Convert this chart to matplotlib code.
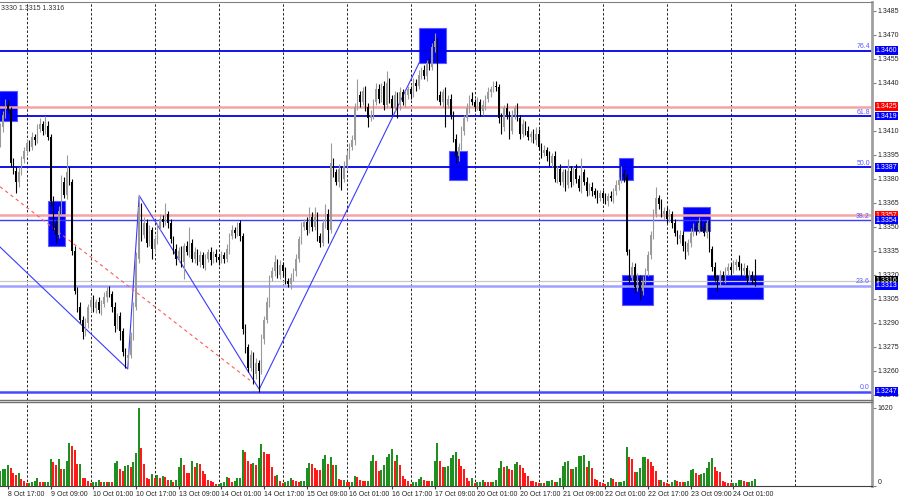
#!/usr/bin/env python3
"""
GBPUSD H1 chart in the MetaTrader look: candles, Fibonacci grid,
marked zones, zigzag and a volume panel underneath.

Bars are counted from 8 Oct 17:00 (bar 0); the chart starts three bars
earlier. Prices are read off the screenshot, so they are approximate.
"""

import numpy as np
import matplotlib
matplotlib.use("Agg")
import matplotlib.pyplot as plt
from matplotlib.patches import Rectangle
from matplotlib.transforms import blended_transform_factory

plt.rcParams["font.family"] = ["Liberation Sans", "DejaVu Sans"]

# ---------------------------------------------------------------------------

# Data

FIRST_BAR = -3
FIRST_OPEN = 1.3402
PIP = 0.0001

close = [
    # 8 Oct (14:00-23:00)
    1.3412, 1.3420, 1.3426, 1.3423, 1.3390, 1.3385, 1.3378, 1.3384, 1.3392, 1.3397,
    # 9 Oct
    1.3402, 1.3400, 1.3406, 1.3404, 1.3411, 1.3414, 1.3410, 1.3413, 1.3406, 1.3366, 1.3352, 1.3345,
    1.3360, 1.3378, 1.3370, 1.3384, 1.3378, 1.3335, 1.3310, 1.3300, 1.3292, 1.3284, 1.3290, 1.3300,
    # 10 Oct
    1.3304, 1.3299, 1.3303, 1.3298, 1.3302, 1.3306, 1.3310, 1.3308, 1.3300, 1.3288, 1.3294, 1.3285,
    1.3272, 1.3268, 1.3270, 1.3282, 1.3300, 1.3330, 1.3362, 1.3345, 1.3352, 1.3340, 1.3348, 1.3336,
    # 13 Oct
    1.3342, 1.3350, 1.3355, 1.3353, 1.3358, 1.3352, 1.3342, 1.3336, 1.3330, 1.3335, 1.3328, 1.3338,
    1.3334, 1.3340, 1.3330, 1.3334, 1.3328, 1.3332, 1.3326, 1.3330, 1.3334, 1.3329, 1.3333, 1.3331,
    # 14 Oct
    1.3329, 1.3332, 1.3330, 1.3336, 1.3344, 1.3348, 1.3346, 1.3352, 1.3344, 1.3286, 1.3275, 1.3262,
    1.3270, 1.3258, 1.3265, 1.3260, 1.3280, 1.3292, 1.3303, 1.3318, 1.3322, 1.3328, 1.3320, 1.3326,
    # 15 Oct
    1.3322, 1.3316, 1.3314, 1.3318, 1.3322, 1.3330, 1.3342, 1.3350, 1.3353, 1.3348, 1.3356, 1.3350,
    1.3356, 1.3344, 1.3340, 1.3352, 1.3358, 1.3348, 1.3390, 1.3384, 1.3378, 1.3386, 1.3380, 1.3388,
    # 16 Oct
    1.3395, 1.3400, 1.3404, 1.3425, 1.3432, 1.3428, 1.3435, 1.3425, 1.3418, 1.3420, 1.3428, 1.3436,
    1.3430, 1.3438, 1.3426, 1.3440, 1.3430, 1.3424, 1.3432, 1.3426, 1.3434, 1.3428, 1.3432, 1.3436,
    # 17 Oct
    1.3433, 1.3440, 1.3438, 1.3445, 1.3448, 1.3444, 1.3452, 1.3450, 1.3462, 1.3466, 1.3432, 1.3428,
    1.3434, 1.3426, 1.3430, 1.3420, 1.3405, 1.3394, 1.3400, 1.3410, 1.3418, 1.3424, 1.3430, 1.3428,
    # 20 Oct
    1.3425, 1.3428, 1.3422, 1.3426, 1.3430, 1.3434, 1.3436, 1.3438, 1.3437, 1.3418, 1.3412, 1.3424,
    1.3420, 1.3410, 1.3420, 1.3424, 1.3418, 1.3408, 1.3414, 1.3410, 1.3406, 1.3408, 1.3404, 1.3408,
    # 21 Oct
    1.3400, 1.3396, 1.3398, 1.3394, 1.3390, 1.3394, 1.3380, 1.3386, 1.3378, 1.3384, 1.3376, 1.3385,
    1.3378, 1.3386, 1.3380, 1.3374, 1.3384, 1.3378, 1.3372, 1.3375, 1.3372, 1.3370, 1.3368, 1.3371,
    # 22 Oct
    1.3368, 1.3366, 1.3369, 1.3368, 1.3372, 1.3376, 1.3379, 1.3383, 1.3381, 1.3334, 1.3318, 1.3325,
    1.3312, 1.3318, 1.3310, 1.3316, 1.3322, 1.3332, 1.3345, 1.3358, 1.3368, 1.3364, 1.3358, 1.3360,
    # 23 Oct
    1.3355, 1.3358, 1.3352, 1.3346, 1.3342, 1.3345, 1.3338, 1.3334, 1.3340, 1.3346, 1.3350, 1.3348,
    1.3352, 1.3350, 1.3346, 1.3352, 1.3336, 1.3325, 1.3318, 1.3316, 1.3320, 1.3318, 1.3322, 1.3325,
    # 24 Oct (00:00-09:00)
    1.3323, 1.3326, 1.3328, 1.3325, 1.3322, 1.3324, 1.3318, 1.3320, 1.3317, 1.3316,
]

# wick lengths above / below the candle body, in pips
wick_up = [
    3, 2, 4, 3, 2, 3, 2, 3, 2, 3,
    3, 2, 3, 2, 3, 4, 2, 6, 3, 2, 3, 2, 3, 4, 3, 11, 3, 2, 3, 2, 3, 2, 3, 2,
    2, 3, 2, 3, 2, 3, 2, 3, 2, 3, 2, 3, 2, 2, 3, 2, 3, 4, 8, 3, 4, 3, 3, 2,
    3, 2, 3, 2, 7, 2, 3, 2, 3, 2, 3, 2, 3, 10, 2, 3, 2, 3, 2, 3, 2, 3, 2, 3,
    2, 3, 2, 3, 2, 3, 2, 1, 2, 2, 3, 2, 3, 2, 3, 2, 3, 2, 3, 2, 3, 4, 2, 3,
    2, 3, 2, 3, 2, 3, 2, 3, 2, 3, 6, 3, 6, 3, 2, 3, 6, 3, 12, 3, 2, 3, 2, 3,
    3, 2, 3, 2, 10, 3, 2, 3, 2, 3, 2, 4, 3, 2, 3, 7, 3, 2, 3, 2, 3, 2, 3, 2,
    2, 3, 2, 3, 2, 3, 2, 3, 3, 5, 2, 3, 2, 3, 2, 3, 2, 3, 2, 3, 2, 3, 2, 4,
    2, 3, 2, 3, 2, 3, 2, 3, 3, 2, 3, 2, 3, 2, 3, 2, 3, 2, 3, 2, 3, 2, 3, 4,
    3, 2, 3, 2, 3, 2, 3, 2, 3, 2, 2, 7, 3, 2, 3, 2, 9, 2, 3, 2, 3, 2, 3, 2,
    2, 3, 2, 3, 2, 3, 2, 5, 3, 2, 2, 3, 2, 3, 2, 3, 2, 3, 2, 3, 7, 2, 3, 2,
    2, 3, 2, 3, 2, 3, 2, 3, 2, 3, 2, 3, 4, 2, 3, 2, 3, 2, 3, 2, 3, 2, 3, 2,
    2, 3, 2, 4, 2, 3, 2, 3, 2, 13,
]
wick_dn = [
    2, 3, 2, 2, 3, 2, 7, 3, 2, 2,
    2, 3, 2, 3, 2, 2, 3, 2, 2, 3, 4, 5, 2, 3, 2, 3, 2, 3, 2, 3, 2, 4, 2, 3,
    3, 2, 3, 2, 3, 2, 3, 2, 3, 4, 2, 6, 3, 6, 3, 2, 3, 2, 3, 4, 2, 3, 2, 6,
    2, 3, 2, 3, 2, 3, 2, 3, 4, 2, 3, 11, 2, 3, 2, 3, 2, 3, 2, 3, 2, 3, 2, 3,
    3, 2, 3, 2, 3, 2, 3, 2, 3, 3, 4, 3, 2, 6, 3, 13, 2, 3, 2, 3, 2, 3, 2, 3,
    3, 2, 2, 3, 2, 3, 2, 3, 2, 3, 2, 3, 2, 3, 3, 2, 3, 8, 2, 3, 2, 3, 7, 2,
    2, 3, 2, 3, 2, 3, 2, 3, 6, 2, 3, 2, 3, 2, 3, 2, 3, 4, 2, 8, 3, 2, 3, 2,
    3, 2, 3, 2, 3, 2, 3, 2, 2, 3, 3, 2, 3, 14, 2, 3, 2, 4, 3, 2, 3, 2, 3, 2,
    3, 2, 3, 2, 3, 2, 3, 2, 2, 3, 4, 2, 3, 5, 2, 3, 2, 3, 2, 3, 2, 3, 2, 3,
    2, 3, 2, 3, 2, 3, 2, 3, 2, 3, 4, 2, 3, 2, 3, 2, 3, 2, 3, 2, 3, 2, 3, 2,
    3, 2, 3, 2, 3, 2, 3, 2, 3, 2, 3, 2, 3, 2, 6, 3, 2, 3, 2, 3, 2, 3, 2, 3,
    3, 2, 3, 2, 3, 2, 3, 4, 2, 3, 2, 3, 2, 3, 2, 3, 2, 3, 2, 6, 3, 2, 3, 2,
    3, 2, 3, 2, 3, 2, 4, 2, 3, 3,
]

volume = [
    312, 346, 346, 430, 381, 277, 229, 277, 146, 104,
    55, 69, 90, 104, 166, 90, 83, 83, 83, 554, 492, 430, 554, 353, 360, 527, 887, 832, 742, 457, 457, 166, 159, 104,
    55, 76, 90, 118, 83, 83, 76, 83, 76, 471, 520, 360, 305, 423, 430, 402, 492, 693, 1620, 783, 450, 159, 146, 249,
    159, 229, 159, 201, 194, 118, 118, 90, 125, 402, 575, 437, 277, 270, 520, 402, 471, 457, 319, 249, 118, 104, 76, 49,
    49, 69, 90, 180, 159, 90, 111, 159, 159, 742, 707, 520, 457, 471, 437, 589, 866, 700, 672, 658, 402, 208, 229, 104,
    55, 76, 111, 166, 118, 104, 90, 104, 104, 367, 485, 450, 367, 333, 326, 561, 651, 457, 610, 430, 430, 139, 132, 132,
    90, 76, 83, 208, 187, 125, 111, 104, 111, 513, 651, 527, 305, 333, 437, 603, 672, 769, 527, 638, 430, 208, 152, 104,
    49, 76, 83, 152, 180, 132, 111, 104, 111, 513, 901, 513, 395, 395, 420, 589, 645, 700, 554, 409, 353, 173, 111, 159,
    62, 76, 90, 118, 90, 83, 76, 76, 125, 381, 520, 395, 423, 353, 333, 457, 499, 437, 367, 263, 208, 111, 97, 90,
    62, 62, 55, 104, 111, 125, 76, 76, 159, 416, 506, 513, 353, 353, 402, 624, 624, 638, 402, 513, 374, 146, 132, 76,
    69, 42, 76, 166, 139, 83, 83, 83, 111, 804, 603, 554, 291, 291, 374, 603, 610, 554, 506, 416, 305, 125, 132, 83,
    62, 42, 76, 118, 97, 90, 76, 76, 97, 326, 360, 277, 229, 243, 270, 374, 492, 575, 402, 312, 291, 97, 83, 69,
    55, 55, 62, 125, 125, 111, 90, 90, 97, 139,
]

time_labels = [
    "8 Oct 17:00", "9 Oct 09:00", "10 Oct 01:00", "10 Oct 17:00", "13 Oct 09:00",
    "14 Oct 01:00", "14 Oct 17:00", "15 Oct 09:00", "16 Oct 01:00", "16 Oct 17:00",
    "17 Oct 09:00", "20 Oct 01:00", "20 Oct 17:00", "21 Oct 09:00", "22 Oct 01:00",
    "22 Oct 17:00", "23 Oct 09:00", "24 Oct 01:00",
]
LABEL_STEP = 16                      # bars between time labels
day_starts = [7, 31, 55, 79, 103, 127, 151, 175, 199, 223, 247, 271, 295]

price_ticks = [1.3245, 1.3260, 1.3275, 1.3290, 1.3305, 1.3320, 1.3335, 1.3350,
               1.3365, 1.3380, 1.3395, 1.3410, 1.3440, 1.3455, 1.3470, 1.3485]

fib_prices = [1.3460, 1.3419, 1.3387, 1.3354, 1.3313, 1.3247]
fib_names = ["76.4", "61.8", "50.0", "38.2", "23.6", "0.0"]
red_levels = [1.3425, 1.3357]
last_price = 1.3316
volume_max_label = 1620

# zigzag pivots (bar, price) and the red dashed trend line
zigzag_bar = [-3, 44.9, 49.2, 94.2, 154.3]
zigzag_price = [1.33373, 1.32611, 1.33694, 1.32484, 1.34528]
trend_bar = [-3, 90.7]
trend_price = [1.3375, 1.3254]

# blue zones: left bar, right bar, low price, high price
zone_left = [-3.5, 15.1, 154.2, 165.2, 229.2, 230.3, 253.2, 262.1]
zone_right = [3.3, 21.4, 164.2, 172.1, 234.2, 242.0, 263.2, 283.1]
zone_low = [1.3416, 1.3338, 1.3452, 1.3379, 1.3379, 1.3301, 1.3347, 1.3305]
zone_high = [1.3435, 1.3366, 1.3474, 1.3397, 1.3393, 1.3320, 1.3362, 1.3320]


# ---------------------------------------------------------------------------

# Plotting

BULL = "#9a9a9a"
BEAR = "#000000"
FS = 5


def price_tag(ax, price, text, color, z=10):
    trans = blended_transform_factory(ax.transAxes, ax.transData)
    ax.text(1.004, price, text, transform=trans, ha="left", va="center",
            fontsize=FS, color="white", clip_on=False, zorder=z,
            bbox=dict(boxstyle="square,pad=0.1", fc=color, ec="none"))


def draw_candles(ax, bars, o, h, l, c):
    up = c >= o
    for mask, col in ((up, BULL), (~up, BEAR)):
        ax.vlines(bars[mask], l[mask], h[mask], color=col, lw=0.8, zorder=3)
        bottom = np.minimum(o, c)[mask]
        height = np.maximum(np.abs(c - o)[mask], 0.3 * PIP)
        ax.bar(bars[mask], height, bottom=bottom, width=0.62, color=col,
               lw=0, zorder=3)


def main():
    n_bars = len(close)
    assert len(wick_up) == n_bars and len(wick_dn) == n_bars, (len(wick_up), len(wick_dn), n_bars)
    assert len(volume) == n_bars, (len(volume), n_bars)

    bars = np.arange(FIRST_BAR, FIRST_BAR + n_bars)
    c = np.array(close)
    o = np.concatenate([[FIRST_OPEN], c[:-1]])
    h = np.maximum(o, c) + np.array(wick_up) * PIP
    l = np.minimum(o, c) - np.array(wick_dn) * PIP

    fig = plt.figure(figsize=(9, 5), dpi=100)
    fig.patch.set_facecolor("white")
    ax = fig.add_axes([0, 0.2, 872 / 900, 0.796])
    axv = fig.add_axes([0, 0.028, 872 / 900, 0.168])

    xlim = (-3, 324)
    ax.set_xlim(*xlim)
    axv.set_xlim(*xlim)
    ax.set_ylim(1.32417, 1.34904)

    # day separators
    for d in day_starts:
        for a in (ax, axv):
            a.axvline(d, color="#222222", lw=0.7, ls=(0, (2.5, 2)), zorder=0.5)

    # zones
    for x0, x1, p0, p1 in zip(zone_left, zone_right, zone_low, zone_high):
        ax.add_patch(Rectangle((x0, p0), x1 - x0, p1 - p0, fc="#0000ff",
                               ec="#5a5aff", lw=0.8, zorder=1))

    # horizontal levels
    fib_style = {
        "76.4": ("#0000e6", 1.3), "61.8": ("#0000e6", 1.3), "50.0": ("#0000e6", 1.3),
        "38.2": ("#3c3cff", 1.0), "23.6": ("#a0a0ff", 1.8), "0.0": ("#4848ff", 1.8),
    }
    for p in red_levels:
        ax.axhline(p, color="#f6a3a3", lw=1.8, zorder=1.5)
    ax.axhline(last_price, color="#c8c8c8", lw=0.9, zorder=1.5)
    for p, name in zip(fib_prices, fib_names):
        col, lw = fib_style[name]
        ax.axhline(p, color=col, lw=lw, zorder=1.6)
        ax.text(xlim[1] - 0.8, p + 0.3 * PIP, name, ha="right", va="bottom",
                fontsize=FS, color="#5a5aff", zorder=4)

    # zigzag and trend line
    ax.plot(zigzag_bar, zigzag_price, color="#3a3aff", lw=0.8, zorder=2)
    ax.plot(trend_bar, trend_price, color="#ff5a5a", lw=0.8, ls=(0, (3, 3)), zorder=2)

    draw_candles(ax, bars, o, h, l, c)

    # price axis on the right
    ax.yaxis.tick_right()
    ax.set_yticks(price_ticks)
    ax.set_yticklabels([f"{t:.4f}" for t in price_ticks])
    ax.tick_params(axis="y", labelsize=FS, length=3, pad=1, color="#808080",
                   labelcolor="#222222")
    ax.set_xticks([])

    # current price tag sits under the level tags, as in the terminal
    price_tag(ax, last_price + 0.4 * PIP, f"{last_price:.4f}", "#000000", z=9)
    for p in red_levels:
        price_tag(ax, p, f"{p:.4f}", "#ff0000")
    for p in fib_prices:
        price_tag(ax, p, f"{p:.4f}", "#0000ff", z=11)

    # volumes: green when the volume rises against the previous bar
    vol = np.array(volume)
    rising = np.concatenate([[True], vol[1:] >= vol[:-1]])
    vcol = np.where(rising, "#1f8f1f", "#ff1a1a")
    axv.bar(bars, vol, width=0.72, color=vcol, lw=0, zorder=3)
    axv.set_ylim(0, volume_max_label * 84 / 78)
    axv.yaxis.tick_right()
    axv.set_yticks([0, volume_max_label])
    axv.set_yticklabels(["0", str(volume_max_label)])
    axv.get_yticklabels()[0].set_va("bottom")
    axv.tick_params(axis="y", labelsize=FS, length=3, pad=1, color="#808080",
                    labelcolor="#222222")

    ticks = [i * LABEL_STEP for i in range(len(time_labels))]
    axv.set_xticks(ticks)
    axv.set_xticklabels(time_labels)
    for lab in axv.get_xticklabels():
        lab.set_ha("left")
    axv.tick_params(axis="x", labelsize=FS, length=2, pad=1.5, color="#444444",
                    labelcolor="#222222")

    # frame
    for a in (ax, axv):
        a.set_facecolor("white")
        a.spines["left"].set_visible(False)
        a.spines["right"].set_color("#a0a0a0")
        a.spines["right"].set_linewidth(2)
    ax.spines["top"].set_color("#808080")
    ax.spines["bottom"].set_color("#707070")
    ax.spines["bottom"].set_linewidth(1.0)
    axv.spines["top"].set_color("#707070")
    axv.spines["top"].set_linewidth(1.0)
    axv.spines["bottom"].set_color("#404040")

    fig.text(0.001, 1 - 8 / 500, "3330 1.3315 1.3316", fontsize=FS,
             color="#333333", ha="left", va="center")

    fig.savefig("out.png", dpi=100)


if __name__ == "__main__":
    main()
